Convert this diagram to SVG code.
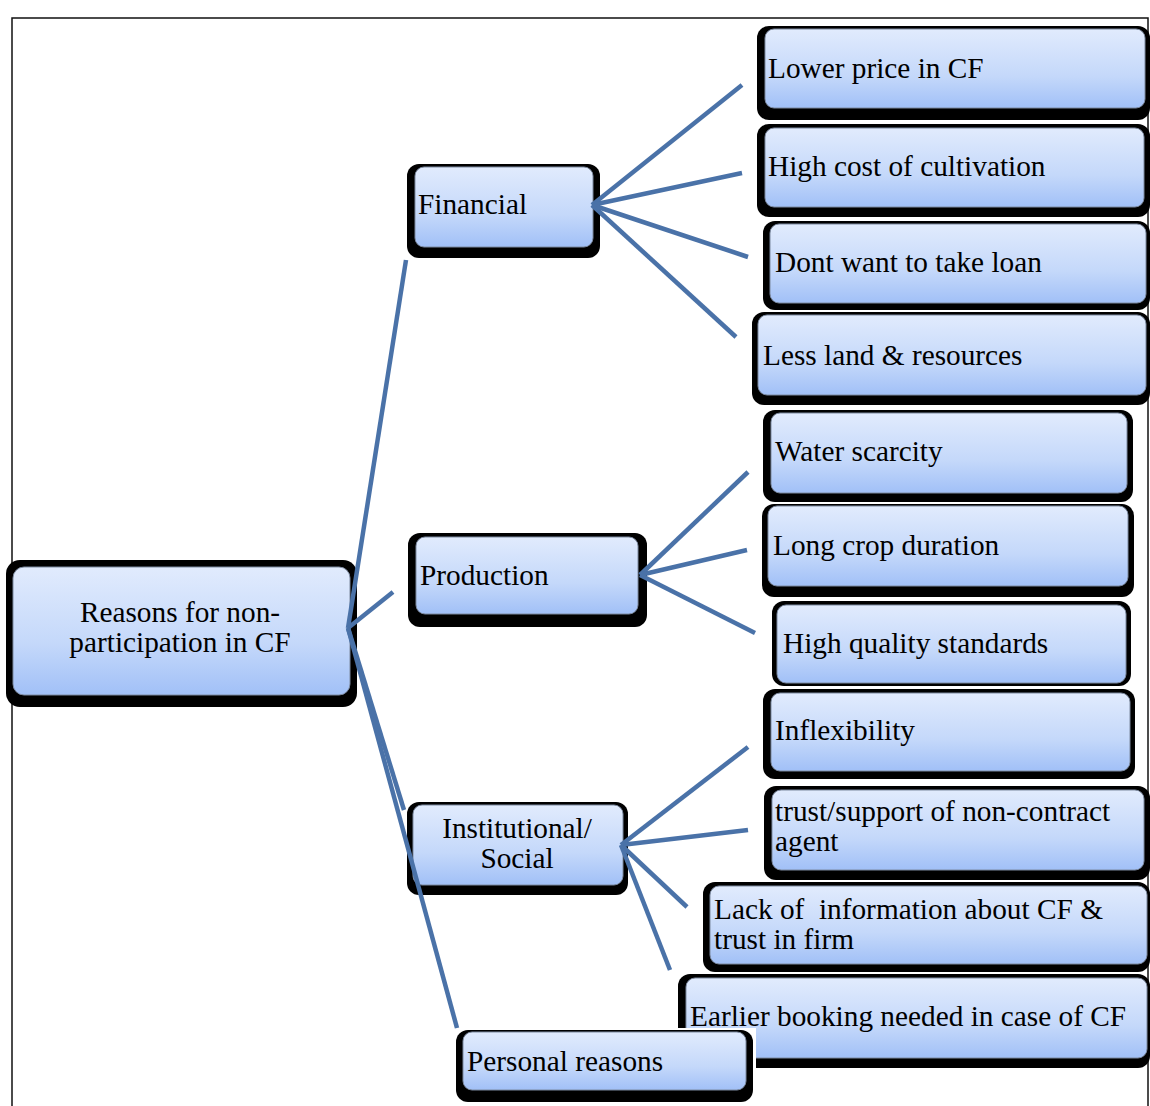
<svg xmlns="http://www.w3.org/2000/svg" width="1150" height="1106" viewBox="0 0 1150 1106">
<defs>
<linearGradient id="g" x1="0" y1="0" x2="0" y2="1">
<stop offset="0" stop-color="#e1ebfd"/>
<stop offset="0.6" stop-color="#c4d8fa"/>
<stop offset="1" stop-color="#a1c0f7"/>
</linearGradient>
</defs>
<style>
.sh{fill:#000}
.bx{fill:url(#g);stroke:#7d8aa0;stroke-width:1}
.t{font-family:"Liberation Serif","Times New Roman",serif;font-size:29.3px;fill:#000}
.c{text-anchor:middle}
.ln{stroke:#4a72a8;stroke-width:4.5;fill:none;stroke-linecap:butt}
</style>
<rect x="0" y="0" width="1150" height="1106" fill="#fff"/>
<rect x="12" y="18" width="1136" height="1100" fill="none" stroke="#111" stroke-width="1.5"/>

<g id="root">
<rect class="sh" x="6" y="560" width="351" height="147" rx="14"/>
<rect class="bx" x="13" y="567" width="337" height="128" rx="11"/>
<text class="t c" x="180" y="622">Reasons for non-</text>
<text class="t c" x="180" y="652">participation in CF</text>
</g>

<g id="financial">
<rect class="sh" x="407" y="164" width="193" height="94" rx="12"/>
<rect class="bx" x="415" y="167" width="178" height="80" rx="9"/>
<text class="t" x="418" y="214">Financial</text>
</g>

<g id="production">
<rect class="sh" x="408" y="533" width="239" height="94" rx="12"/>
<rect class="bx" x="416" y="537" width="222" height="77" rx="9"/>
<text class="t" x="420" y="585">Production</text>
</g>

<g id="institutional">
<rect class="sh" x="407" y="802" width="221" height="93" rx="12"/>
<rect class="bx" x="413" y="805" width="210" height="80" rx="9"/>
<text class="t c" x="517" y="838">Institutional/</text>
<text class="t c" x="517" y="868">Social</text>
</g>

<g id="lower-price">
<rect class="sh" x="757" y="26" width="393" height="94" rx="12"/>
<rect class="bx" x="765" y="29" width="380" height="79" rx="9"/>
<text class="t" x="768" y="78">Lower price in CF</text>
</g>

<g id="high-cost">
<rect class="sh" x="757" y="124" width="393" height="93" rx="12"/>
<rect class="bx" x="765" y="128" width="379" height="79" rx="9"/>
<text class="t" x="768" y="176">High cost of cultivation</text>
</g>

<g id="loan">
<rect class="sh" x="763" y="221" width="387" height="89" rx="12"/>
<rect class="bx" x="770" y="224" width="376" height="79" rx="9"/>
<text class="t" x="775" y="272">Dont want to take loan</text>
</g>

<g id="land">
<rect class="sh" x="752" y="312" width="398" height="93" rx="12"/>
<rect class="bx" x="758" y="315" width="388" height="80" rx="9"/>
<text class="t" x="763" y="365">Less land &amp; resources</text>
</g>

<g id="water">
<rect class="sh" x="763" y="410" width="370" height="92" rx="12"/>
<rect class="bx" x="771" y="413" width="356" height="80" rx="9"/>
<text class="t" x="775" y="461">Water scarcity</text>
</g>

<g id="crop">
<rect class="sh" x="762" y="504" width="372" height="93" rx="12"/>
<rect class="bx" x="768" y="506" width="360" height="80" rx="9"/>
<text class="t" x="773" y="555">Long crop duration</text>
</g>

<g id="quality">
<rect class="sh" x="772" y="601" width="359" height="85" rx="12"/>
<rect class="bx" x="777" y="605" width="349" height="78" rx="9"/>
<text class="t" x="783" y="653">High quality standards</text>
</g>

<g id="inflexibility">
<rect class="sh" x="763" y="689" width="372" height="90" rx="12"/>
<rect class="bx" x="771" y="693" width="359" height="78" rx="9"/>
<text class="t" x="775" y="740">Inflexibility</text>
</g>

<g id="trust">
<rect class="sh" x="764" y="786" width="386" height="94" rx="12"/>
<rect class="bx" x="772" y="790" width="372" height="80" rx="9"/>
<text class="t" x="775" y="821">trust/support of non-contract</text>
<text class="t" x="775" y="851">agent</text>
</g>

<g id="lack-info">
<rect class="sh" x="703" y="882" width="447" height="90" rx="12"/>
<rect class="bx" x="710" y="886" width="437" height="78" rx="9"/>
<text class="t" x="714" y="919" xml:space="preserve">Lack of  information about CF &amp;</text>
<text class="t" x="714" y="949">trust in firm</text>
</g>

<g id="earlier-booking">
<rect class="sh" x="678" y="974" width="472" height="94" rx="12"/>
<rect class="bx" x="686" y="978" width="461" height="80" rx="9"/>
<text class="t" x="690" y="1026">Earlier booking needed in case of CF</text>
</g>

<g id="personal">
<rect x="452" y="1028" width="304" height="78" fill="#fff"/>
<rect class="sh" x="456" y="1030" width="297" height="72" rx="12"/>
<rect class="bx" x="463" y="1032" width="283" height="58" rx="9"/>
<text class="t" x="467" y="1071">Personal reasons</text>
</g>

<g id="connectors">
<line class="ln" x1="348" y1="628" x2="406" y2="260"/>
<line class="ln" x1="348" y1="628" x2="393" y2="592"/>
<line class="ln" x1="348" y1="628" x2="404" y2="810"/>
<line class="ln" x1="348" y1="628" x2="457" y2="1028"/>
<line class="ln" x1="592" y1="205" x2="742" y2="85"/>
<line class="ln" x1="592" y1="205" x2="742" y2="173"/>
<line class="ln" x1="592" y1="205" x2="748" y2="257"/>
<line class="ln" x1="592" y1="205" x2="736" y2="337"/>
<line class="ln" x1="640" y1="575" x2="748" y2="472"/>
<line class="ln" x1="640" y1="575" x2="747" y2="550"/>
<line class="ln" x1="640" y1="575" x2="755" y2="633"/>
<line class="ln" x1="621" y1="845" x2="748" y2="747"/>
<line class="ln" x1="621" y1="845" x2="748" y2="830"/>
<line class="ln" x1="621" y1="845" x2="687" y2="907"/>
<line class="ln" x1="621" y1="845" x2="670" y2="970"/>
</g>
</svg>
